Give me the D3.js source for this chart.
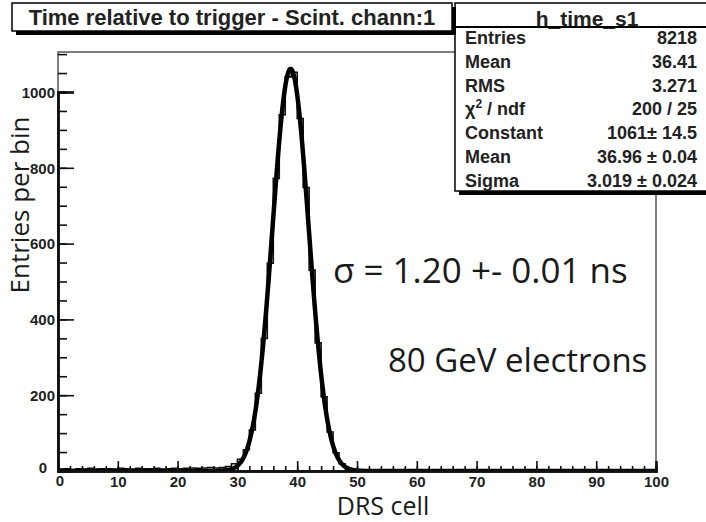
<!DOCTYPE html>
<html>
<head>
<meta charset="utf-8">
<script src="https://cdn.jsdelivr.net/npm/d3@7"></script>
<style>
	body { margin:0; background:#fff; }
	svg { display:block; }
	.root { font-family:"Liberation Sans", Arial, sans-serif; font-weight:bold; }
	.soft { font-family:"Open Sans", "Noto Sans", sans-serif; font-weight:normal; fill:#1a1a1a; }
</style>
</head>
<body>
<div id="chart"></div>
<script>
// histogram h_time_s1 : entries per DRS cell (bins 0..99)
const binValues = [
	5, 6, 4, 6, 5, 7, 5, 6, 6, 5,
	7, 6, 5, 7, 6, 6, 7, 5, 6, 7,
	6, 7, 8, 7, 8, 9, 8, 9, 12, 19,
	31, 56, 108, 205, 350, 548, 772, 940, 1040, 1052,
	930, 748, 530, 338, 196, 103, 48, 19, 8, 3,
	2, 1, 1, 0, 1, 0, 0, 0, 0, 0,
	0, 0, 0, 0, 0, 0, 0, 0, 0, 0,
	0, 0, 0, 0, 0, 0, 0, 0, 0, 0,
	0, 0, 0, 0, 0, 0, 0, 0, 0, 0,
	0, 0, 0, 0, 0, 0, 0, 0, 0, 0
]
// gaussian curve as drawn in the picture (height, centre, width)
const fitConstant = 1061
const curveCentre = 38.9
const fitSigma = 3.019

const xTicks = [0, 10, 20, 30, 40, 50, 60, 70, 80, 90, 100]
const yTicks = [0, 200, 400, 600, 800, 1000]

const titleText = "Time relative to trigger - Scint. chann:1"
const statsName = "h_time_s1"
const statLabels = ["Entries", "Mean", "RMS", "chi2", "Constant", "Mean", "Sigma"]
const statValues = ["8218", "36.41", "3.271", "200 / 25", "1061\u00b1 14.5", "36.96 \u00b1 0.04", "3.019 \u00b1 0.024"]

const W = 706, H = 522
const frame = {left:58, right:656, top:52, bottom:471}

const svg = d3.select("#chart").append("svg")
	.attr("width", W).attr("height", H)
	.attr("class", "root")

const x = d3.scaleLinear().domain([0, 100]).range([frame.left, frame.right])
const y = d3.scaleLinear().domain([0, 1000]).range([frame.bottom, 92])

svg.append("clipPath").attr("id", "clip")
	.append("rect")
	.attr("x", frame.left).attr("y", frame.top)
	.attr("width", frame.right-frame.left).attr("height", frame.bottom-frame.top)

// frame
svg.append("rect")
	.attr("x", frame.left).attr("y", frame.top)
	.attr("width", frame.right-frame.left).attr("height", frame.bottom-frame.top)
	.style("fill", "#fff").style("stroke", "#555").style("stroke-width", 1.5)

const plot = svg.append("g").attr("clip-path", "url(#clip)")

// histogram outline
const steps = binValues.map((v,i)=>[i, v]).concat([[100, binValues[binValues.length-1]]])
plot.append("path")
	.datum(steps)
	.attr("d", d3.line().x(d=>x(d[0])).y(d=>y(d[1])).curve(d3.curveStepAfter))
	.style("fill", "none").style("stroke", "#111").style("stroke-width", 1.6)

// fit function
const gaus = t => fitConstant*Math.exp(-0.5*Math.pow((t-curveCentre)/fitSigma, 2))
plot.append("path")
	.datum(d3.range(0, 100.01, 0.1))
	.attr("d", d3.line().x(d=>x(d)).y(d=>y(gaus(d))))
	.style("fill", "none").style("stroke", "#000").style("stroke-width", 4.5)
	.style("stroke-linejoin", "round")

// axes, ticks pointing inside the frame
svg.append("g").attr("transform", "translate(0,"+frame.bottom+")")
	.call(d3.axisBottom(x).tickValues(d3.range(0, 101, 2)).tickSize(-5).tickFormat(""))
const xAxis = svg.append("g").attr("transform", "translate(0,"+frame.bottom+")")
	.call(d3.axisBottom(x).tickValues(xTicks).tickSize(-10).tickPadding(5).tickFormat(d3.format("d")))
svg.append("g").attr("transform", "translate("+frame.left+",0)")
	.call(d3.axisLeft(y).tickValues(d3.range(0, 1101, 50)).tickSize(-9).tickFormat(""))
const yAxis = svg.append("g").attr("transform", "translate("+frame.left+",0)")
	.call(d3.axisLeft(y).tickValues(yTicks).tickSize(-16).tickPadding(3).tickFormat(d3.format("d")))

svg.selectAll(".domain").style("stroke", "#111").style("stroke-width", 2.5)
svg.selectAll(".tick line").style("stroke", "#111").style("stroke-width", 1.6)
svg.selectAll(".tick text")
	.style("font-family", "'Liberation Sans', Arial, sans-serif")
	.style("font-weight", "bold").style("font-size", "15px").style("fill", "#222")
yAxis.selectAll(".tick text").attr("dy", "0.35em")
yAxis.selectAll(".tick").filter(d=>d===0).select("text").attr("x", -11).attr("dy", "0.1em")
xAxis.selectAll(".tick").filter(d=>d===0).select("text").attr("dx", "0.1em").attr("y", 4)

// axis titles
svg.append("text").attr("class", "soft")
	.attr("x", 383).attr("y", 515)
	.attr("text-anchor", "middle").style("font-size", "25px")
	.text("DRS cell")
svg.append("text").attr("class", "soft")
	.attr("transform", "translate(29,205) rotate(-90)")
	.attr("text-anchor", "middle").style("font-size", "26px")
	.text("Entries per bin")

// annotations
svg.append("text").attr("class", "soft")
	.attr("x", 333).attr("y", 283).style("font-size", "35px")
	.text("\u03c3 = 1.20 +- 0.01 ns")
svg.append("text").attr("class", "soft")
	.attr("x", 388).attr("y", 372).style("font-size", "33px")
	.text("80 GeV electrons")

// stats box
const sb = {left:455, right:712, top:3, sep:27, bottom:191}
svg.append("rect")
	.attr("x", sb.left+4).attr("y", sb.top+4)
	.attr("width", sb.right-sb.left).attr("height", sb.bottom-sb.top)
	.style("fill", "#000")
svg.append("rect")
	.attr("x", sb.left).attr("y", sb.top)
	.attr("width", sb.right-sb.left).attr("height", sb.bottom-sb.top)
	.style("fill", "#fff").style("stroke", "#000").style("stroke-width", 1.5)
svg.append("text")
	.attr("x", 587).attr("y", 25.5).attr("text-anchor", "middle")
	.style("font-size", "21px").style("fill", "#222")
	.text(statsName)
svg.append("line")
	.attr("x1", sb.left).attr("x2", sb.right).attr("y1", sb.sep).attr("y2", sb.sep)
	.style("stroke", "#000").style("stroke-width", 1.8)

const rowY = d3.scaleLinear().domain([0, statLabels.length-1]).range([44, 186.5])
const rows = svg.append("g").style("font-size", "18px").style("fill", "#222")
statLabels.forEach((lab,i)=>{
	const t = rows.append("text").attr("x", 465).attr("y", rowY(i))
	if (lab==="chi2"){
		t.append("tspan").text("\u03c7")
		t.append("tspan").attr("dy", -7).style("font-size", "12px").text("2")
		t.append("tspan").attr("dy", 7).text(" / ndf")
	} else {
		t.text(lab)
	}
	rows.append("text").attr("x", 697).attr("y", rowY(i))
		.attr("text-anchor", "end").text(statValues[i])
})

// title box, drawn last (covers the top-left of the stats box)
const tb = {left:12, right:452, top:3, bottom:31}
svg.append("rect")
	.attr("x", tb.left+4).attr("y", tb.top+4)
	.attr("width", tb.right-tb.left).attr("height", tb.bottom-tb.top)
	.style("fill", "#000")
svg.append("rect")
	.attr("x", tb.left).attr("y", tb.top)
	.attr("width", tb.right-tb.left).attr("height", tb.bottom-tb.top)
	.style("fill", "#fff").style("stroke", "#000").style("stroke-width", 1.5)
svg.append("text")
	.attr("x", (tb.left+tb.right)/2).attr("y", 25).attr("text-anchor", "middle")
	.style("font-size", "22px").style("fill", "#222")
	.text(titleText)
</script>
</body>
</html>
